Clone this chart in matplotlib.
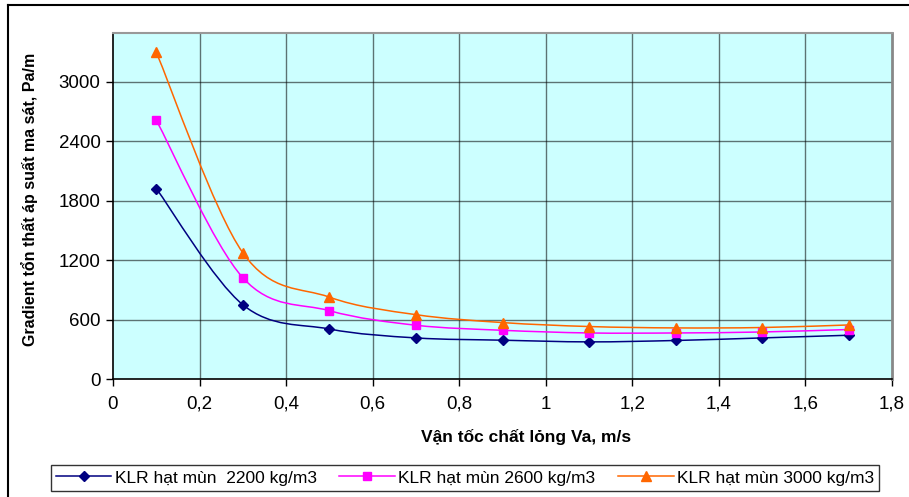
import matplotlib
matplotlib.use("Agg")
import matplotlib.pyplot as plt
from matplotlib.path import Path
from matplotlib.patches import PathPatch
from matplotlib.lines import Line2D
import numpy as np

plt.rcParams['font.family'] = ['Liberation Sans', 'DejaVu Sans']

# ---- data ----
va = [0.1, 0.3, 0.5, 0.7, 0.9, 1.1, 1.3, 1.5, 1.7]
s2200 = [1924, 750, 505, 415, 392, 375, 389, 415, 442]
s2600 = [2614, 1023, 690, 543, 492, 465, 465, 475, 500]
s3000 = [3300, 1275, 827, 650, 570, 530, 516, 520, 546]
labels = ["KLR hạt mùn  2200 kg/m3", "KLR hạt mùn 2600 kg/m3", "KLR hạt mùn 3000 kg/m3"]
colors = ["#000080", "#FF00FF", "#FF6600"]
markers = ["D", "s", "^"]
msizes = [5.5, 6, 7.5]
xticks = [0, 0.2, 0.4, 0.6, 0.8, 1.0, 1.2, 1.4, 1.6, 1.8]
xticklabels = ["0", "0,2", "0,4", "0,6", "0,8", "1", "1,2", "1,4", "1,6", "1,8"]
yticks = [0, 600, 1200, 1800, 2400, 3000]


def smooth_path(x, y):
    """Excel-style smoothed line: cubic Bezier through the data points."""
    pts = np.column_stack([x, y]).astype(float)
    n = len(pts)
    verts = [pts[0]]
    codes = [Path.MOVETO]
    for i in range(n - 1):
        p0 = pts[i - 1] if i > 0 else pts[i]
        p1 = pts[i]
        p2 = pts[i + 1]
        p3 = pts[i + 2] if i + 2 < n else pts[i + 1]
        c1 = p1 + (p2 - p0) / 6.0
        c2 = p2 - (p3 - p1) / 6.0
        verts += [c1, c2, p2]
        codes += [Path.CURVE4] * 3
    return Path(verts, codes)


fig = plt.figure(figsize=(9.09, 4.97), dpi=100)
ax = fig.add_axes([113 / 909, 1 - 379 / 497, (892 - 113) / 909, (379 - 32.5) / 497])
ax.set_facecolor("#CCFFFF")
ax.set_xlim(0, 1.8)
ax.set_ylim(0, 3500)

for xv in xticks[1:-1]:
    ax.axvline(xv, color="#000000", alpha=0.55, lw=1.0, zorder=1)
for yv in yticks[1:]:
    ax.axhline(yv, color="#000000", alpha=0.55, lw=1.0, zorder=1)

handles = []
for ys, c, m, ms, lab in zip([s2200, s2600, s3000], colors, markers, msizes, labels):
    patch = PathPatch(smooth_path(va, ys), fill=False, edgecolor=c, lw=1.1, zorder=3)
    ax.add_patch(patch)
    ax.plot(va, ys, linestyle="none", marker=m, color=c, markersize=ms, zorder=4)
    handles.append(Line2D([0], [0], color=c, lw=1.1, marker=m, markersize=ms, label=lab))

ax.set_xticks(xticks)
ax.set_xticklabels(xticklabels)
ax.set_yticks(yticks)
ax.tick_params(axis="both", direction="out", length=5, width=1, labelsize=13.5, color="black")
ax.tick_params(axis="x", pad=7)
ax.tick_params(axis="y", pad=4)

ax.spines["left"].set_color("black")
ax.spines["left"].set_linewidth(1.2)
ax.spines["bottom"].set_color("black")
ax.spines["bottom"].set_linewidth(1.2)
ax.spines["top"].set_color("#999999")
ax.spines["top"].set_linewidth(1.5)
ax.spines["right"].set_color("#888888")
ax.spines["right"].set_linewidth(2.0)

fig.text(526 / 909, 1 - 437 / 497, "Vận tốc chất lỏng Va, m/s", ha="center", va="center",
         fontsize=12.5, fontweight="bold")
fig.text(30 / 909, 1 - 199 / 497, "Gradient tổn thất áp suất ma sát, Pa/m", rotation=90,
         ha="center", va="center", fontsize=11.5, fontweight="bold")

leg = fig.legend(handles=handles, loc="center", bbox_to_anchor=(465 / 909, 1 - 478 / 497),
                 ncol=3, frameon=True, fancybox=False, edgecolor="black", fontsize=12.5,
                 handlelength=3.2, columnspacing=1.3, borderpad=0.3, handletextpad=0.2)
leg.get_frame().set_linewidth(1.0)

# outer chart frame (top and left visible)
fig.add_artist(Line2D([8 / 909, 8 / 909], [0, 1 - 5 / 497], color="black", lw=1.5,
                      transform=fig.transFigure))
fig.add_artist(Line2D([8 / 909, 1], [1 - 5 / 497, 1 - 5 / 497], color="black", lw=1.5,
                      transform=fig.transFigure))

fig.savefig("out.png", dpi=100, facecolor="white")
